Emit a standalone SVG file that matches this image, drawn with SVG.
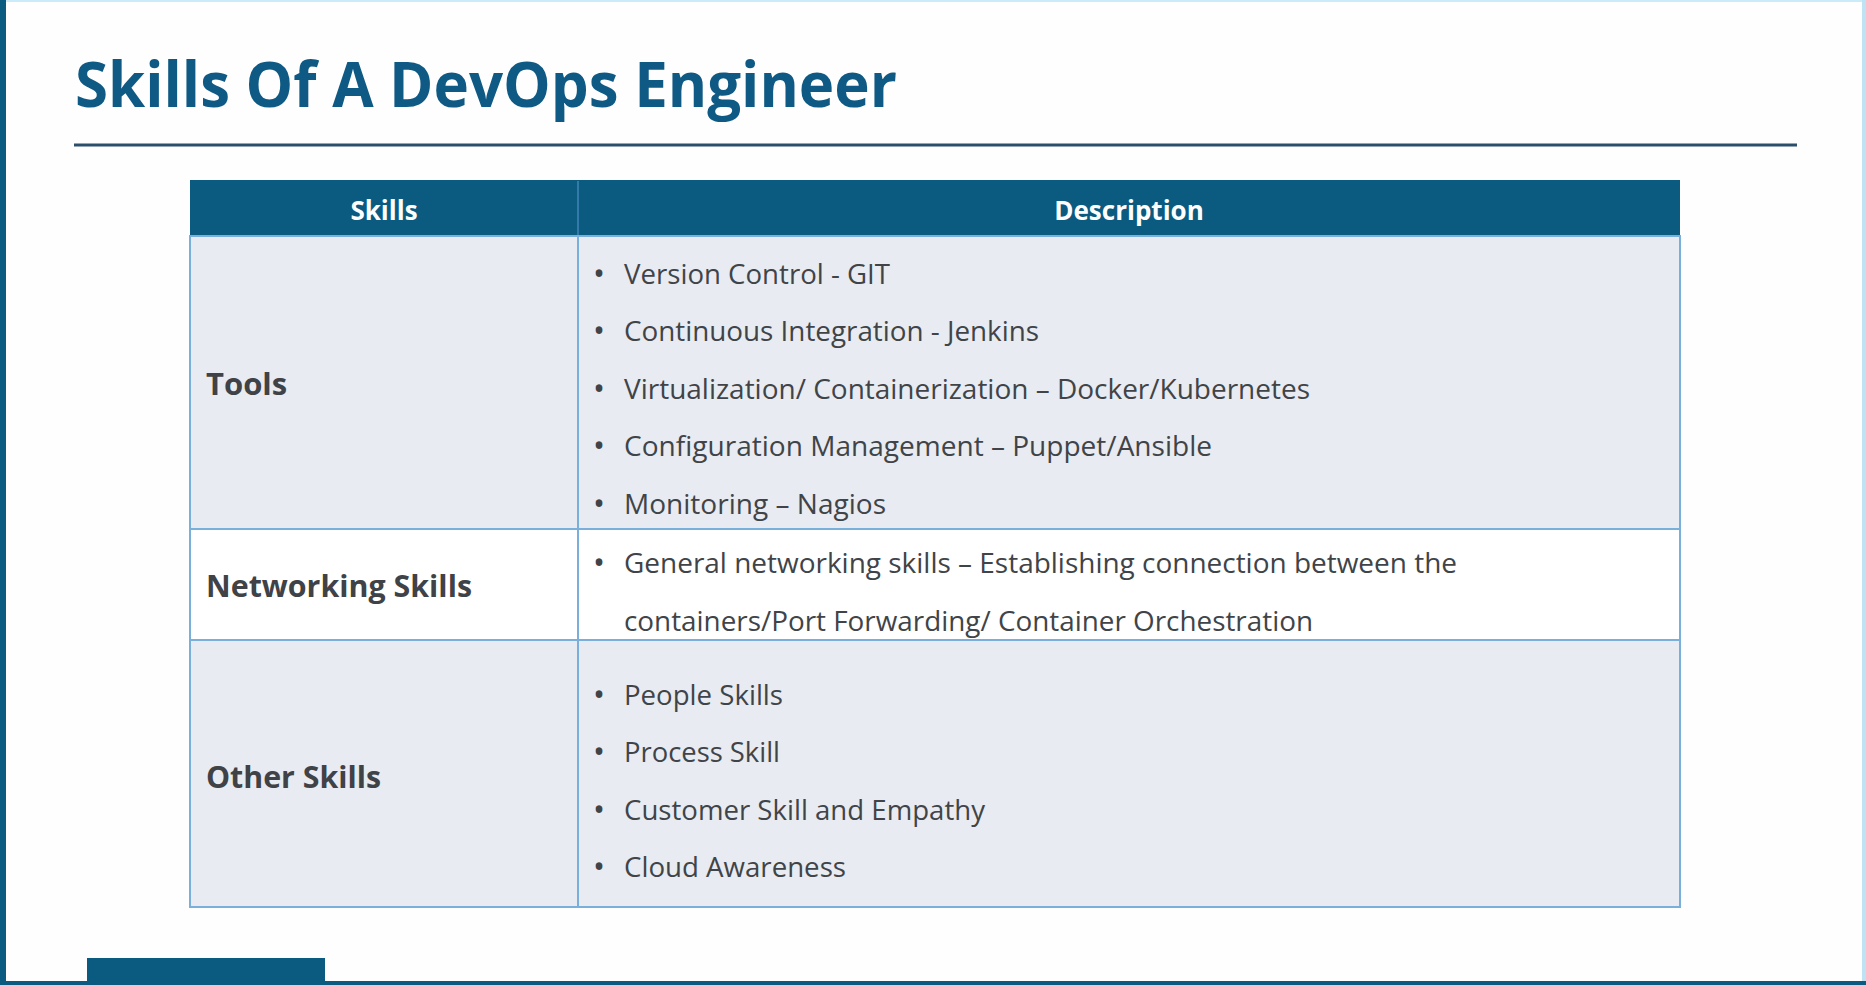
<svg xmlns="http://www.w3.org/2000/svg" width="1866" height="985" viewBox="0 0 1866 985">
<style>
.title{font-family:"Open Sans","Liberation Sans",sans-serif;font-weight:700;font-size:62px;fill:#0f5a84}
.hdr{font-family:"Open Sans","Liberation Sans",sans-serif;font-weight:700;font-size:26px;fill:#ffffff;text-anchor:middle}
.skill{font-family:"Open Sans","Liberation Sans",sans-serif;font-weight:700;font-size:31px;fill:#3f4246}
.desc{font-family:"Open Sans","Liberation Sans",sans-serif;font-size:27px;fill:#404448}
.bul{font-family:"Open Sans","Liberation Sans",sans-serif;font-size:32px;fill:#404448;text-anchor:middle}
.cell{stroke:#7aaedb;stroke-width:2}
</style>
<rect x="0" y="0" width="1866" height="985" fill="#fefefe"/>
<rect x="0" y="0" width="1866" height="2" fill="#c9ecf8"/>
<rect x="1862" y="0" width="4" height="985" fill="#bfe3f3"/>
<rect x="0" y="0" width="6" height="985" fill="#0b5a80"/>
<rect x="0" y="981" width="1866" height="4" fill="#0b5a80"/>
<rect x="87" y="958" width="238" height="27" fill="#0b5a80"/>

<g id="title">
<text class="title" x="75" y="107" textLength="822" lengthAdjust="spacingAndGlyphs">Skills Of A DevOps Engineer</text>
<rect x="74" y="143.5" width="1723" height="3" fill="#2b4f6b"/>
</g>

<g id="header">
<rect x="190" y="180" width="1490" height="56" fill="#0b5a80"/>
<line x1="578" y1="181" x2="578" y2="236" stroke="#3f86b8" stroke-width="1.5"/>
<text class="hdr" x="384" y="220">Skills</text>
<text class="hdr" x="1129" y="220">Description</text>
</g>

<g id="row-tools">
<rect class="cell" x="190" y="236" width="388" height="293" fill="#e8ebf1"/>
<rect class="cell" x="578" y="236" width="1102" height="293" fill="#e8ebf1"/>
<text class="skill" x="206" y="395">Tools</text>
<text class="bul" x="599" y="285">•</text>
<text class="desc" x="624" y="284" textLength="266" lengthAdjust="spacingAndGlyphs">Version Control - GIT</text>
<text class="bul" x="599" y="342">•</text>
<text class="desc" x="624" y="341" textLength="415" lengthAdjust="spacingAndGlyphs">Continuous Integration - Jenkins</text>
<text class="bul" x="599" y="400">•</text>
<text class="desc" x="624" y="399" textLength="686" lengthAdjust="spacingAndGlyphs">Virtualization/ Containerization – Docker/Kubernetes</text>
<text class="bul" x="599" y="457">•</text>
<text class="desc" x="624" y="456" textLength="588" lengthAdjust="spacingAndGlyphs">Configuration Management – Puppet/Ansible</text>
<text class="bul" x="599" y="515">•</text>
<text class="desc" x="624" y="514" textLength="262" lengthAdjust="spacingAndGlyphs">Monitoring – Nagios</text>
</g>

<g id="row-networking">
<rect class="cell" x="190" y="529" width="388" height="111" fill="#ffffff"/>
<rect class="cell" x="578" y="529" width="1102" height="111" fill="#ffffff"/>
<text class="skill" x="206" y="597" textLength="266" lengthAdjust="spacingAndGlyphs">Networking Skills</text>
<text class="bul" x="599" y="574">•</text>
<text class="desc" x="624" y="573" textLength="833" lengthAdjust="spacingAndGlyphs">General networking skills – Establishing connection between the</text>
<text class="desc" x="624" y="631" textLength="689" lengthAdjust="spacingAndGlyphs">containers/Port Forwarding/ Container Orchestration</text>
</g>

<g id="row-other">
<rect class="cell" x="190" y="640" width="388" height="267" fill="#e8ebf1"/>
<rect class="cell" x="578" y="640" width="1102" height="267" fill="#e8ebf1"/>
<text class="skill" x="206" y="788" textLength="175" lengthAdjust="spacingAndGlyphs">Other Skills</text>
<text class="bul" x="599" y="706">•</text>
<text class="desc" x="624" y="705" textLength="159" lengthAdjust="spacingAndGlyphs">People Skills</text>
<text class="bul" x="599" y="763">•</text>
<text class="desc" x="624" y="762" textLength="156" lengthAdjust="spacingAndGlyphs">Process Skill</text>
<text class="bul" x="599" y="821">•</text>
<text class="desc" x="624" y="820" textLength="361" lengthAdjust="spacingAndGlyphs">Customer Skill and Empathy</text>
<text class="bul" x="599" y="878">•</text>
<text class="desc" x="624" y="877" textLength="222" lengthAdjust="spacingAndGlyphs">Cloud Awareness</text>
</g>
</svg>
